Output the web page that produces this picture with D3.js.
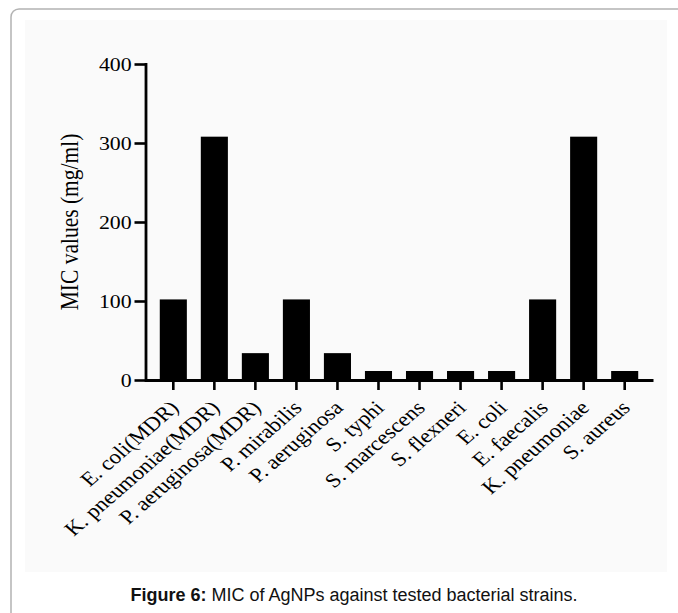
<!DOCTYPE html>
<html>
<head>
<meta charset="utf-8">
<script src="https://cdn.jsdelivr.net/npm/d3@7"></script>
<style>
  body { margin: 0; background: #fff; }
  svg { display: block; }
</style>
</head>
<body>
<svg id="chart" width="678" height="613"></svg>
<script>
// strains on the x axis, MIC values
const strains = ["E. coli(MDR)", "K. pneumoniae(MDR)", "P. aeruginosa(MDR)", "P. mirabilis",
  "P. aeruginosa", "S. typhi", "S. marcescens", "S. flexneri", "E. coli", "E. faecalis",
  "K. pneumoniae", "S. aureus"];
const micValues = [102, 308, 34, 102, 34, 11.4, 11.4, 11.4, 11.4, 102, 308, 11.4];
const yTicks = [0, 100, 200, 300, 400];
const yTitle = "MIC values (mg/ml)";

const svg = d3.select("#chart");
const stretch = 1.15; // the original figure text is a bit wider than tall

// page frame + faint figure background
svg.append("rect").attr("x", 25).attr("y", 20).attr("width", 642).attr("height", 552)
  .style("fill", "#fafafa");
svg.append("rect").attr("x", 11).attr("y", 9).attr("width", 720).attr("height", 700)
  .attr("rx", 8)
  .style("fill", "none").style("stroke", "#b3b3b3").style("stroke-width", 1.5);

const x = d3.scaleBand()
  .domain(strains)
  .range([145, 653])
  .paddingInner(0.34)
  .paddingOuter(0.36);

const y = d3.scaleLinear()
  .domain([0, 400])
  .range([380, 64]);

const serif = "'Liberation Serif', 'Times New Roman', serif";

// bars
svg.selectAll(".bar")
  .data(strains)
  .enter()
  .append("rect")
  .attr("class", "bar")
  .attr("x", d => x(d))
  .attr("width", x.bandwidth())
  .attr("y", (d, i) => y(micValues[i]))
  .attr("height", (d, i) => y(0) - y(micValues[i]))
  .style("fill", "#000");

// y axis
const yAxis = svg.append("g")
  .attr("transform", "translate(145.5,0)")
  .call(d3.axisLeft(y).tickValues(yTicks).tickSize(11).tickSizeOuter(0));

yAxis.select(".domain").style("stroke", "#000").style("stroke-width", 2.8).attr("stroke-linecap", "square");
yAxis.selectAll(".tick line").style("stroke", "#000").style("stroke-width", 2.6);
yAxis.selectAll(".tick text")
  .attr("x", -12)
  .attr("transform", `scale(${stretch},1)`)
  .style("font-family", serif)
  .style("font-size", "19px")
  .style("fill", "#000");

// x axis
const xAxis = svg.append("g")
  .attr("transform", "translate(0,380)")
  .call(d3.axisBottom(x).tickSize(10).tickSizeOuter(0));

xAxis.select(".domain").style("stroke", "#000").style("stroke-width", 2.8);
xAxis.selectAll(".tick line").style("stroke", "#000").style("stroke-width", 2.6);
xAxis.selectAll(".tick text")
  .attr("x", 0)
  .attr("y", 0)
  .attr("dy", "0.35em")
  .attr("text-anchor", "end")
  .attr("transform", `translate(1,24) scale(${stretch},1) rotate(-45)`)
  .style("font-family", serif)
  .style("font-size", "20px")
  .style("fill", "#000");

// y title
svg.append("text")
  .attr("transform", `translate(69,222) scale(${stretch},1) rotate(-90)`)
  .attr("text-anchor", "middle")
  .attr("dy", "0.35em")
  .style("font-family", serif)
  .style("font-size", "21.5px")
  .style("fill", "#000")
  .text(yTitle);

// caption
const caption = svg.append("text")
  .attr("x", 354)
  .attr("y", 601)
  .attr("text-anchor", "middle")
  .style("font-family", "'Liberation Sans', Arial, sans-serif")
  .style("font-size", "18px")
  .style("fill", "#111");
caption.append("tspan").style("font-weight", "bold").text("Figure 6:");
caption.append("tspan").text(" MIC of AgNPs against tested bacterial strains.");
</script>
</body>
</html>
